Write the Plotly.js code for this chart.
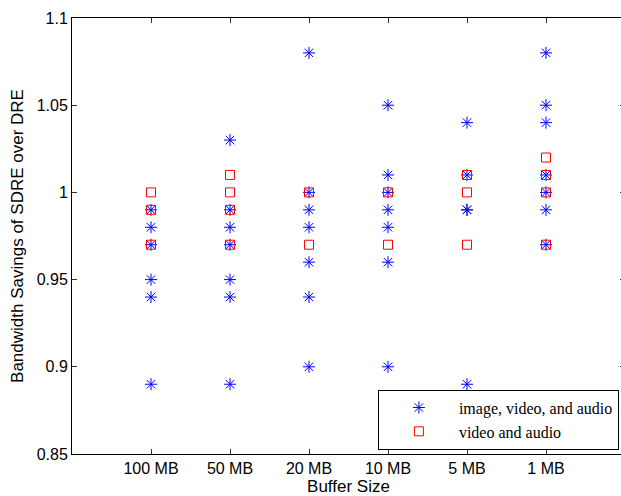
<!DOCTYPE html>
<html>
<head>
<meta charset="utf-8">
<script src="https://cdn.plot.ly/plotly-3.0.1.min.js"></script>
<style>
html, body { margin: 0; padding: 0; overflow: hidden; background: #fff; }
#chart { width: 626px; height: 496px; }
</style>
</head>
<body>
<div id="chart"></div>
<script>
// Categories (buffer sizes)
const categories = ["100 MB", "50 MB", "20 MB", "10 MB", "5 MB", "1 MB"];

// Series 1: image, video, and audio (per category)
const allMedia100 = [0.99, 0.98, 0.97, 0.95, 0.94, 0.89];
const allMedia50  = [1.03, 0.99, 0.98, 0.97, 0.95, 0.94, 0.89];
const allMedia20  = [1.08, 1.00, 0.99, 0.98, 0.96, 0.94, 0.90];
const allMedia10  = [1.05, 1.01, 1.00, 0.99, 0.98, 0.96, 0.90];
const allMedia5   = [1.04, 1.01, 0.99, 0.99, 0.89];
const allMedia1   = [1.08, 1.05, 1.04, 1.01, 1.00, 0.99, 0.97];

// Series 2: video and audio (per category)
const videoAudio100 = [1.00, 0.99, 0.97];
const videoAudio50  = [1.01, 1.00, 0.99, 0.97];
const videoAudio20  = [1.00, 0.97];
const videoAudio10  = [1.00, 0.97];
const videoAudio5   = [1.01, 1.00, 0.97];
const videoAudio1   = [1.02, 1.01, 1.00, 0.97];

const yTickVals = [0.85, 0.9, 0.95, 1, 1.05, 1.1];
const yTickText = ["0.85", "0.9", "0.95", "1", "1.05", "1.1"];

function flatten(groups) {
  const xs = [], ys = [];
  groups.forEach((vals, i) => {
    vals.forEach(v => { xs.push(categories[i]); ys.push(v); });
  });
  return {x: xs, y: ys};
}

const s1 = flatten([allMedia100, allMedia50, allMedia20, allMedia10, allMedia5, allMedia1]);
const s2 = flatten([videoAudio100, videoAudio50, videoAudio20, videoAudio10, videoAudio5, videoAudio1]);

const traces = [
  {
    x: s1.x, y: s1.y, type: "scatter", mode: "markers",
    name: "image, video, and audio",
    marker: {symbol: "asterisk-open", size: 10, color: "#0000ff",
             line: {color: "#0000ff", width: 1}}
  },
  {
    x: s2.x, y: s2.y, type: "scatter", mode: "markers",
    name: "video and audio",
    marker: {symbol: "square-open", size: 9, color: "#ff0000",
             line: {color: "#ff0000", width: 1}}
  }
];

const axisFont = {family: "Liberation Sans, Arial, sans-serif", size: 16, color: "#000"};

const layout = {
  width: 626, height: 496,
  margin: {l: 72, r: 1, t: 18, b: 42},
  paper_bgcolor: "#fff", plot_bgcolor: "#fff",
  showlegend: true,
  font: axisFont,
  xaxis: {
    type: "category",
    categoryorder: "array", categoryarray: categories,
    range: [-1, 6],
    showgrid: false, zeroline: false,
    showline: true, linecolor: "#000", linewidth: 1,
    mirror: "ticks", ticks: "inside", ticklen: 5, tickcolor: "#333",
    tickfont: axisFont,
    title: {text: "Buffer Size", font: {family: "Liberation Sans, Arial, sans-serif", size: 17, color: "#000"}, standoff: 6},
    automargin: false
  },
  yaxis: {
    range: [0.85, 1.1],
    tickvals: yTickVals, ticktext: yTickText,
    showgrid: false, zeroline: false,
    showline: true, linecolor: "#000", linewidth: 1,
    mirror: "ticks", ticks: "inside", ticklen: 5, tickcolor: "#333",
    tickfont: axisFont,
    title: {text: "Bandwidth Savings of SDRE over DRE", font: {family: "Liberation Sans, Arial, sans-serif", size: 17, color: "#000"}, standoff: 8},
    automargin: false
  },
  legend: {
    x: 0.989, y: 0.01, xanchor: "right", yanchor: "bottom",
    bgcolor: "#fff", bordercolor: "#000", borderwidth: 1,
    font: {family: "Liberation Serif, Times New Roman, serif", size: 16, color: "#000"},
    tracegroupgap: 0, itemwidth: 70
  }
};

Plotly.newPlot("chart", traces, layout, {displayModeBar: false, staticPlot: true});
</script>
</body>
</html>
